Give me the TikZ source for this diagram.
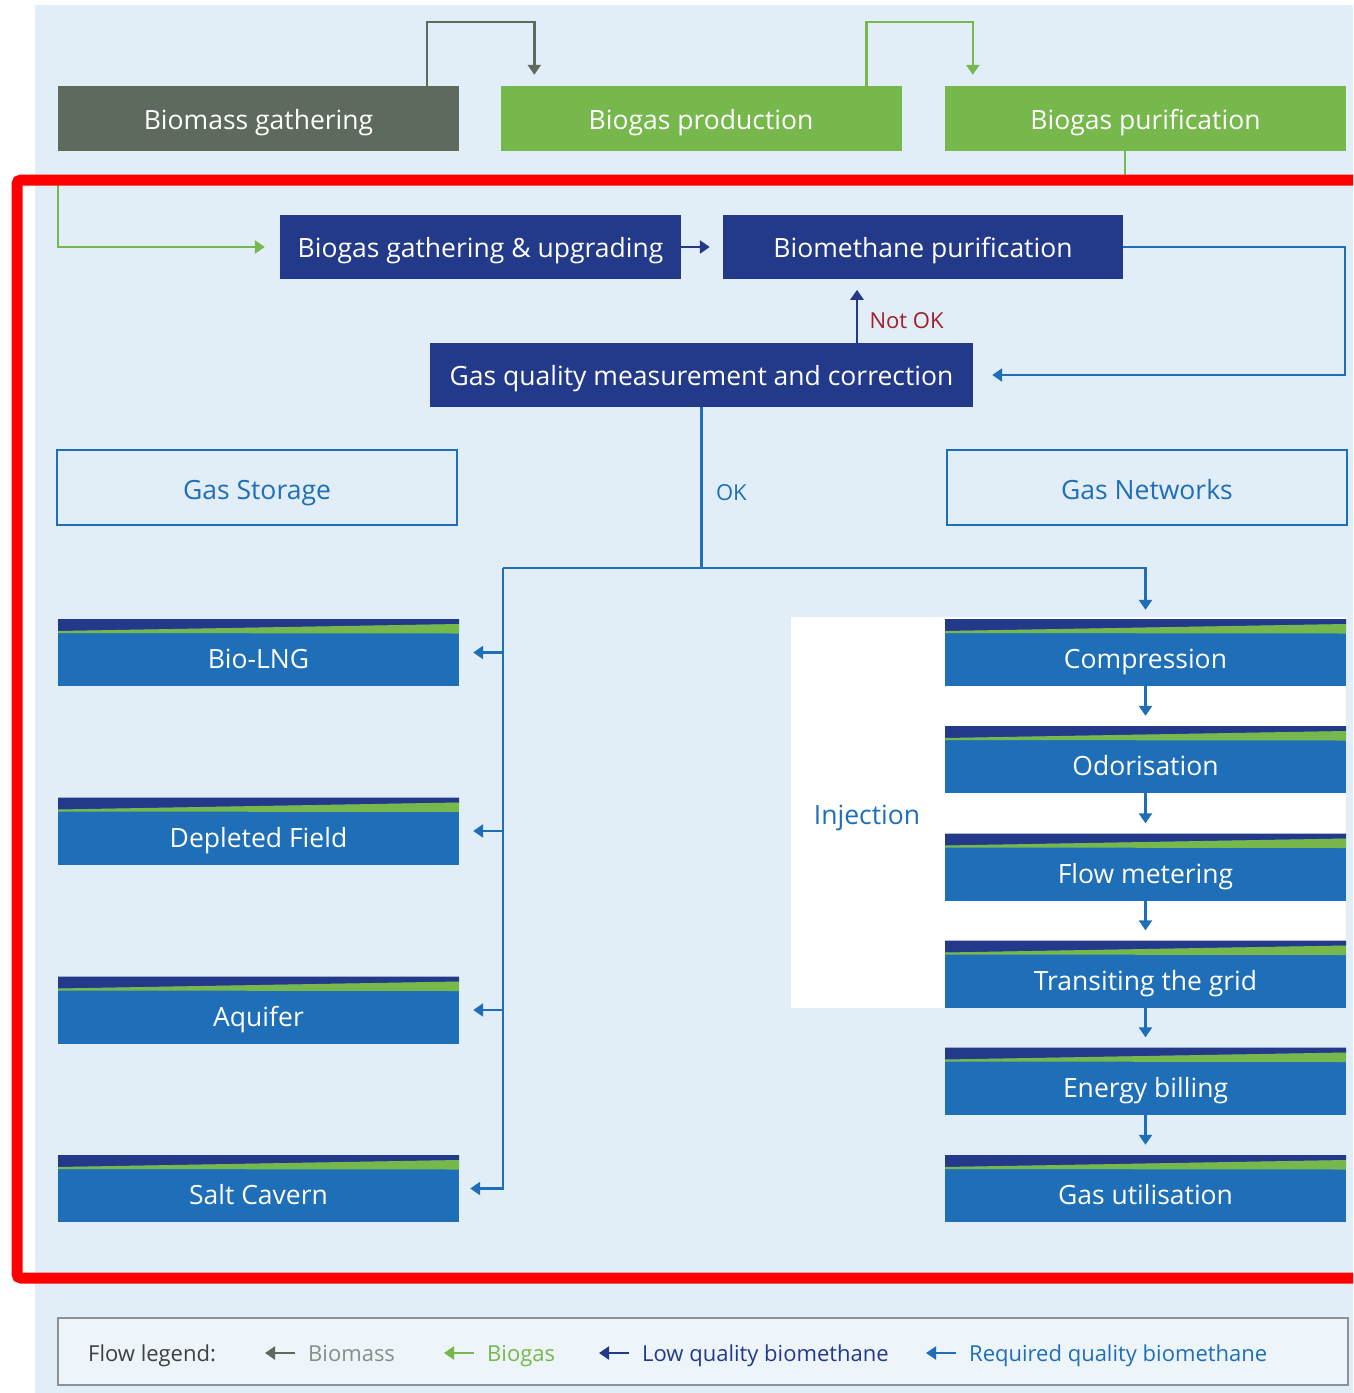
\documentclass[tikz,border=0pt]{standalone}
\usepackage{fontspec}
\setmainfont{Open Sans}
\usetikzlibrary{arrows.meta, positioning, calc}
\definecolor{bmback}{HTML}{E1EDF7}
\definecolor{bmnavy}{HTML}{233A8B}
\definecolor{bmblue}{HTML}{1F6FB8}
\definecolor{bmgreen}{HTML}{76B84B}
\definecolor{bmgrey}{HTML}{5E6A5E}
\definecolor{bmred}{HTML}{A21F2B}
\definecolor{bmframe}{HTML}{8A9299}
\newcommand{\boxfont}{\fontsize{26.5}{31}\selectfont}
\newcommand{\legfont}{\fontsize{22}{26}\selectfont}
\tikzset{
  flowbox/.style={minimum width=401pt, minimum height=65pt, inner sep=0pt, text=white,
    text height=27pt, text depth=6pt, font=\boxfont},
  stagebox/.style={flowbox, fill=bmblue, minimum height=67pt, text height=38pt,
    path picture={
      \fill[bmnavy] (path picture bounding box.north west) -- (path picture bounding box.north east)
        -- ([yshift=-5pt]path picture bounding box.north east) -- ([yshift=-12pt]path picture bounding box.north west) -- cycle;
      \fill[bmgreen] ([yshift=-12pt]path picture bounding box.north west) -- ([yshift=-5pt]path picture bounding box.north east)
        -- ([yshift=-14.5pt]path picture bounding box.north east) -- ([yshift=-14pt]path picture bounding box.north west) -- cycle;}},
  groupbox/.style={draw=bmblue, line width=2.5pt, minimum width=400pt, minimum height=75pt,
    inner sep=0pt, text height=30pt, text depth=6pt, text=bmblue, font=\boxfont},
  flow/.style={line width=2.5pt, -{Triangle[width=13pt,length=10pt]}},
  massflow/.style={flow, bmgrey},
  gasflow/.style={flow, bmgreen},
  lowflow/.style={flow, bmnavy},
  reqflow/.style={flow, bmblue},
  legtext/.style={anchor=west, inner sep=0pt, text height=22pt, text depth=5pt, font=\legfont}
}
\begin{document}
\begin{tikzpicture}[x=1pt, y=-1pt]
  \useasboundingbox (0,0) rectangle (1353,1393);
  \clip (0,0) rectangle (1353,1393);
  \fill[bmback] (35,5) rectangle (1353,1393);
  \fill[white] (791,617) rectangle (1346,1008);
  % upstream chain
  \node[flowbox, fill=bmgrey] (biomass) at (258.5,118.5) {Biomass gathering};
  \node[flowbox, fill=bmgreen] (production) at (701,118.5) {Biogas production};
  \node[flowbox, fill=bmgreen] (biopur) at (1145.5,118.5) {Biogas purification};
  \node[flowbox, fill=bmnavy, minimum height=64pt] (upgrading) at (480.5,247) {Biogas gathering \& upgrading};
  \node[flowbox, fill=bmnavy, minimum width=400pt, minimum height=64pt] (methpur) at (923,247) {Biomethane purification};
  \node[flowbox, fill=bmnavy, minimum width=543pt, minimum height=64pt] (quality) at (701.5,375) {Gas quality measurement and correction};
  \node[groupbox] (storage) at (257,487.5) {Gas Storage};
  \node[groupbox] (networks) at (1147,487.5) {Gas Networks};
  % storage
  \foreach \y/\name/\txt in {652.5/lng/Bio-LNG, 831/depleted/Depleted Field, 1010/aquifer/Aquifer, 1188.5/cavern/Salt Cavern}
    \node[stagebox] (\name) at (258.5,\y) {\txt};
  % injection
  \foreach \y/\name/\txt in {652.5/compr/Compression, 759.5/odor/Odorisation, 867/meter/Flow metering,
      974/grid/Transiting the grid, 1081/billing/Energy billing, 1188.5/use/Gas utilisation}
    \node[stagebox] (\name) at (1145.5,\y) {\txt};
  \node[text=bmblue, font=\boxfont] (injection) at (867,818) {Injection};
  % flows
  \draw[massflow] ([xshift=-32pt]biomass.north east) -- ++(0,-64) -| ([xshift=34pt,yshift=11pt]production.north west);
  \draw[gasflow] ([xshift=-35pt]production.north east) -- ++(0,-64) -| ([xshift=28pt,yshift=11pt]biopur.north west);
  \draw[gasflow] ([xshift=-20.5pt]biopur.south) -- ++(0,29) -- ++(-1067,0) |- ([xshift=-15pt]upgrading.west);
  \draw[lowflow] (upgrading.east) -- ([xshift=-13pt]methpur.west);
  \draw[reqflow] (methpur.east) -- ++(222,0) |- ([xshift=19pt]quality.east);
  \draw[lowflow] ([xshift=155.5pt]quality.north) -- ++(0,-53)
    node[midway, right=8pt, yshift=-4pt, text=bmred, font=\legfont] (notok) {Not OK};
  \draw[reqflow, -] (quality.south) -- ++(0,161) coordinate (split)
    node[midway, right=10pt, yshift=-5pt, text=bmblue, font=\legfont] (ok) {OK};
  \coordinate (spine) at ([xshift=-198.5pt]split);
  \draw[reqflow] (spine) -- (split) -| ([yshift=9pt]compr.north);
  \draw[reqflow] (spine) |- ([xshift=11pt]cavern.east);
  \foreach \name in {lng, depleted, aquifer}
    \draw[reqflow] (spine |- \name.east) -- ([xshift=14pt]\name.east);
  \foreach \a/\b in {compr/odor, odor/meter, meter/grid, grid/billing, billing/use}
    \draw[reqflow] (\a.south) -- ([yshift=10pt]\b.north);
  % legend
  \draw[bmframe, line width=2pt, fill=bmback!60!white] (58,1318) rectangle (1348,1385);
  \node[legtext, text=black!75] (legend) at (88,1353) {Flow legend:};
  \node[legtext, text=bmgrey!75] (lgmass) at (308,1353) {Biomass};
  \node[legtext, text=bmgreen] (lggas) at (487,1353) {Biogas};
  \node[legtext, text=bmnavy] (lglow) at (642,1353) {Low quality biomethane};
  \node[legtext, text=bmblue] (lgreq) at (969,1353) {Required quality biomethane};
  \draw[massflow, line width=2pt] ([xshift=-13pt]lgmass.west) -- ++(-30,0);
  \draw[gasflow, line width=2pt] ([xshift=-13pt]lggas.west) -- ++(-30,0);
  \draw[lowflow, line width=2pt] ([xshift=-13pt]lglow.west) -- ++(-30,0);
  \draw[reqflow, line width=2pt] ([xshift=-13pt]lgreq.west) -- ++(-30,0);
  % highlight frame
  \draw[red, line width=11pt, rounded corners=4pt] (17,180) rectangle (1380,1278);
\end{tikzpicture}
\end{document}
